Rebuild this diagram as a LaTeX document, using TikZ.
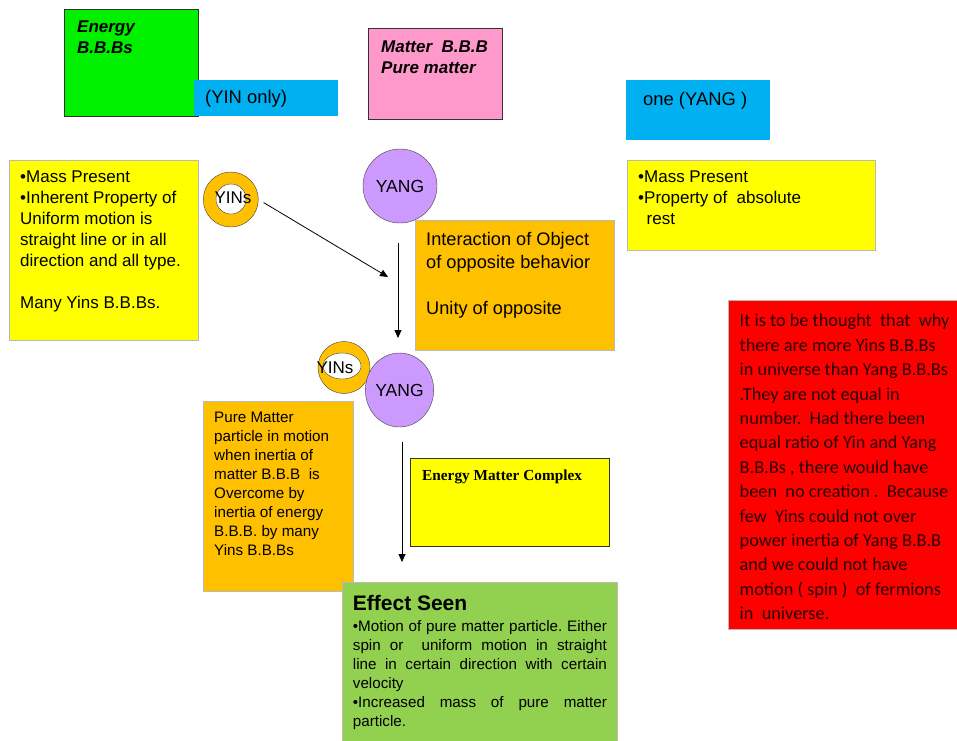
\documentclass[tikz,border=0pt]{standalone}
\usepackage{fontspec}
\setmainfont{Liberation Sans}
\newfontfamily\calibrifont{Carlito}
\newfontfamily\timesfont{Liberation Serif}
\usetikzlibrary{arrows.meta,shapes.geometric,positioning}
\definecolor{energygreen}{HTML}{00F000}
\definecolor{skyblue}    {HTML}{00B0F0}
\definecolor{mattpink}   {HTML}{FF99CC}
\definecolor{boxyellow}  {HTML}{FFFF00}
\definecolor{boxorange}  {HTML}{FFC000}
\definecolor{yanglilac}  {HTML}{CC99FF}
\definecolor{effectgreen}{HTML}{92D050}
\definecolor{notered}    {HTML}{FF0000}
\frenchspacing

\begin{document}
\begin{tikzpicture}[
  x=1pt, y=-1pt,
  box/.style={draw=gray!55,line width=0.8pt,anchor=north west,inner sep=0pt},
  darkbox/.style={box,draw=gray!40!black},
  txt/.style={anchor=north west,inner sep=0pt,align=left},
  head/.style={txt,font=\bfseries\itshape\fontsize{17}{20.5}\selectfont},
  body/.style={txt,font=\fontsize{17}{21}\selectfont},
  tag/.style={inner sep=0pt,anchor=west,font=\fontsize{18.4}{21}\selectfont},
  ring/.style={circle,draw=gray!50!black,fill=boxorange,minimum size=55pt,inner sep=0pt},
  ringcore/.style={fill=white,draw=gray!50!black},
  ringtxt/.style={inner sep=0pt,font=\fontsize{17}{20}\selectfont},
  yang/.style={ellipse,draw=gray!50!black,fill=yanglilac,inner sep=0pt,
               font=\fontsize{17.5}{20}\selectfont},
  arr/.style={-{Triangle[width=7pt,length=8pt]},line width=0.8pt}
]
\useasboundingbox (0,0) rectangle (957,740);

%% top row: energy / yin only / matter / one yang
\node[darkbox,fill=energygreen,minimum width=133.5pt,minimum height=106.5pt] (energy) at (64,9) {};
\node[head] (energytxt) at (77,21) {Energy\\B.B.Bs};
\node[box,draw=none,fill=skyblue,minimum width=144pt,minimum height=36pt] (yinonly) at (193.5,79.3) {};
\node[tag] (yinonlytxt) at (205,99) {(YIN only)};
\node[darkbox,fill=mattpink,minimum width=134pt,minimum height=91pt] (matter) at (368.3,28.3) {};
\node[head] (mattertxt) at (381,41) {Matter\ \ B.B.B\\Pure matter};
\node[box,draw=none,fill=skyblue,minimum width=144pt,minimum height=60pt] (oneyang) at (626,79.3) {};
\node[tag] (oneyangtxt) at (643,101) {one (YANG )};

%% property boxes
\node[box,fill=boxyellow,minimum width=188.5pt,minimum height=180pt] (propyin) at (9.3,160) {};
\node[body] (propyintxt) at (20,171)
  {•Mass Present\\•Inherent Property of\\Uniform motion is\\straight line or in all\\direction and all type.\\[21pt]Many Yins B.B.Bs.};
\node[box,fill=boxyellow,minimum width=248.5pt,minimum height=90pt] (propyang) at (626.7,160) {};
\node[body] (propyangtxt) at (638,171)
  {•Mass Present\\•Property of\ \ absolute\\\hspace*{0.5em}rest};

%% first interaction
\node[ring] (yinsA) at (230.8,199.5) {};
\draw[ringcore] (231,199) circle [radius=15];
\node[ringtxt] (yinsAtxt) at (233,198) {YINs};
\node[yang,minimum width=74pt,minimum height=74pt] (yangA) at (400,186) {YANG};
\node[box,fill=boxorange,minimum width=199pt,minimum height=130pt] (interact) at (415,220) {};
\node[txt,font=\fontsize{18.2}{23}\selectfont] (interacttxt) at (426,232)
  {Interaction of Object\\of opposite behavior\\[23pt]Unity of opposite};

\coordinate (d1end) at (388,277);
\coordinate (v1top) at (398,243);
\coordinate (v1end) at (398,338);
\draw[arr,shorten <=6pt] (yinsA.east) -- (d1end);
\draw[arr] (v1top) -- (v1end);

%% bound pair
\node[ring,minimum size=52pt] (yinsB) at (344,367.5) {};
\draw[ringcore] (342,366) ellipse [x radius=19, y radius=13];
\node[ringtxt] (yinsBtxt) at (335,368) {YINs};
\node[yang,minimum width=67pt,minimum height=74pt] (yangB) at (399.5,390) {YANG};

\node[box,fill=boxorange,minimum width=150.6pt,minimum height=190pt] (motion) at (202.7,401) {};
\node[txt,font=\fontsize{15.2}{19}\selectfont] (motiontxt) at (214,412)
  {Pure Matter\\particle in motion\\when inertia of\\matter B.B.B\ \ is\\Overcome by\\inertia of energy\\B.B.B. by many\\Yins B.B.Bs};

\node[darkbox,fill=boxyellow,minimum width=199.3pt,minimum height=88.3pt] (complex) at (410,457.7) {};
\node[txt,font=\timesfont\bfseries\fontsize{15.3}{18}\selectfont] (complextxt) at (422,469.5)
  {Energy Matter Complex};

\coordinate (v2top) at (402,442);
\coordinate (v2end) at (402,562);
\draw[arr] (v2top) -- (v2end);

%% effect
\node[box,fill=effectgreen,minimum width=275.6pt,minimum height=162pt] (effect) at (341.7,581.7) {};
\node[txt,font=\bfseries\fontsize{21}{24}\selectfont] (effecthead) at (352.7,595) {Effect Seen};
\node[txt,font=\fontsize{15.2}{19}\selectfont] (effecttxt) at (352.7,620)
  {\makebox[254pt][s]{•Motion of pure matter particle. Either}\\
   \makebox[254pt][s]{spin or\ \ uniform motion in straight}\\
   \makebox[254pt][s]{line in certain direction with certain}\\
   velocity\\
   \makebox[254pt][s]{•Increased mass of pure matter}\\
   particle.};

%% note
\node[box,fill=notered,minimum width=232pt,minimum height=329pt] (note) at (728.3,300) {};
\node[txt,font=\calibrifont\fontsize{18.3}{24.4}\selectfont,text=black!85!red] (notetxt) at (739.5,314)
  {It is to be thought\ \ that\ \ why\\there are more Yins B.B.Bs\\in universe than Yang B.B.Bs\\.They are not equal in\\number.\ \ Had there been\\equal ratio of Yin and Yang\\B.B.Bs , there would have\\been\ \ no creation .\ \ Because\\few\ \ Yins could not over\\power inertia of Yang B.B.B\\and we could not have\\motion ( spin )\ \ of fermions\\in\ \ universe.};

\end{tikzpicture}
\end{document}
